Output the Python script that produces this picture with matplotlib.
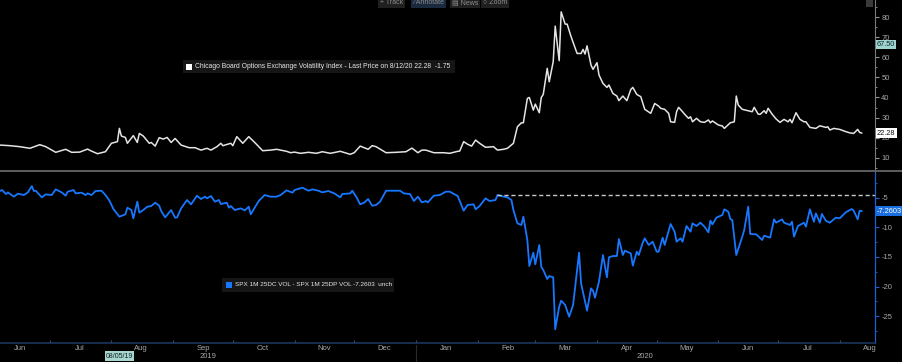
"""Bloomberg-style two panel chart: VIX and SPX 1M 25D call-put skew."""

import pandas as pd
import matplotlib
matplotlib.use("Agg")
import matplotlib.pyplot as plt
import matplotlib.dates as mdates
from matplotlib.patches import Rectangle
from matplotlib.lines import Line2D
from matplotlib.ticker import MultipleLocator, NullFormatter
from matplotlib.transforms import blended_transform_factory

plt.rcParams['font.family'] = ['Liberation Sans Narrow', 'Liberation Sans', 'DejaVu Sans']
plt.rcParams['axes.unicode_minus'] = False

# ---- data ----
vix_dates = [
    "2019-06-06", "2019-06-11", "2019-06-16", "2019-06-21", "2019-06-26", "2019-06-29",
    "2019-07-04", "2019-07-09", "2019-07-12", "2019-07-16", "2019-07-20", "2019-07-22",
    "2019-07-25", "2019-07-29", "2019-08-01", "2019-08-04", "2019-08-05", "2019-08-06",
    "2019-08-08", "2019-08-09", "2019-08-12", "2019-08-14", "2019-08-15", "2019-08-17",
    "2019-08-20", "2019-08-21", "2019-08-23", "2019-08-25", "2019-08-27", "2019-08-29",
    "2019-08-31", "2019-09-02", "2019-09-05", "2019-09-09", "2019-09-12", "2019-09-15",
    "2019-09-18", "2019-09-20", "2019-09-23", "2019-09-25", "2019-09-26", "2019-09-30",
    "2019-10-01", "2019-10-03", "2019-10-06", "2019-10-09", "2019-10-12", "2019-10-16",
    "2019-10-20", "2019-10-23", "2019-10-28", "2019-10-30", "2019-11-01", "2019-11-04",
    "2019-11-08", "2019-11-12", "2019-11-15", "2019-11-19", "2019-11-24", "2019-11-29",
    "2019-12-01", "2019-12-04", "2019-12-08", "2019-12-10", "2019-12-12", "2019-12-17",
    "2019-12-22", "2019-12-27", "2019-12-30", "2020-01-02", "2020-01-04", "2020-01-06",
    "2020-01-10", "2020-01-15", "2020-01-18", "2020-01-22", "2020-01-23", "2020-01-25",
    "2020-01-27", "2020-01-29", "2020-01-31", "2020-02-02", "2020-02-05", "2020-02-09",
    "2020-02-11", "2020-02-14", "2020-02-16", "2020-02-19", "2020-02-21", "2020-02-23",
    "2020-02-24", "2020-02-26", "2020-02-27", "2020-02-29", "2020-03-01", "2020-03-03",
    "2020-03-04", "2020-03-05", "2020-03-07", "2020-03-08", "2020-03-10", "2020-03-11",
    "2020-03-13", "2020-03-14", "2020-03-16", "2020-03-17", "2020-03-19", "2020-03-22",
    "2020-03-24", "2020-03-25", "2020-03-26", "2020-03-27", "2020-03-29", "2020-03-30",
    "2020-04-01", "2020-04-02", "2020-04-04", "2020-04-06", "2020-04-07", "2020-04-09",
    "2020-04-11", "2020-04-12", "2020-04-14", "2020-04-16", "2020-04-18", "2020-04-19",
    "2020-04-21", "2020-04-23", "2020-04-25", "2020-04-28", "2020-04-30", "2020-05-02",
    "2020-05-03", "2020-05-05", "2020-05-07", "2020-05-08", "2020-05-10", "2020-05-11",
    "2020-05-12", "2020-05-14", "2020-05-15", "2020-05-17", "2020-05-18", "2020-05-19",
    "2020-05-21", "2020-05-23", "2020-05-25", "2020-05-27", "2020-05-28", "2020-05-29",
    "2020-06-01", "2020-06-03", "2020-06-04", "2020-06-07", "2020-06-09", "2020-06-10",
    "2020-06-11", "2020-06-13", "2020-06-16", "2020-06-18", "2020-06-19", "2020-06-21",
    "2020-06-22", "2020-06-24", "2020-06-25", "2020-06-26", "2020-06-28", "2020-06-30",
    "2020-07-02", "2020-07-04", "2020-07-06", "2020-07-07", "2020-07-08", "2020-07-10",
    "2020-07-12", "2020-07-14", "2020-07-15", "2020-07-17", "2020-07-20", "2020-07-22",
    "2020-07-25", "2020-07-26", "2020-07-27", "2020-07-29", "2020-08-01", "2020-08-04",
    "2020-08-06", "2020-08-08", "2020-08-10", "2020-08-11", "2020-08-12",
]
vix_values = [
    16.3, 16.0, 15.5, 14.7, 16.5, 15.5,
    12.7, 14.2, 12.7, 12.8, 14.3, 13.3,
    12.0, 13.0, 17.2, 18.0, 24.6, 20.8,
    20.1, 17.2, 21.0, 17.6, 22.1, 20.8,
    17.2, 17.6, 15.8, 20.0, 19.3, 20.1,
    17.6, 19.6, 16.3, 15.0, 15.0, 13.8,
    14.7, 13.8, 15.5, 17.2, 16.0, 17.2,
    16.0, 20.5, 17.2, 20.5, 17.6, 13.5,
    13.8, 14.2, 13.2, 12.5, 12.8, 12.2,
    12.7, 12.2, 13.0, 12.2, 13.2, 11.7,
    12.5, 15.8, 14.2, 16.0, 15.5, 12.5,
    12.7, 13.0, 14.8, 12.5, 13.8, 13.8,
    12.5, 12.5, 12.2, 13.2, 13.3, 18.0,
    16.7, 15.8, 18.8, 17.2, 15.2, 15.5,
    13.8, 14.2, 14.7, 17.2, 25.4, 27.4,
    27.4, 39.5, 40.0, 33.7, 36.7, 32.4,
    40.0, 41.5, 54.5, 47.8, 57.8, 75.5,
    58.3, 82.6, 76.5, 76.5, 70.2, 61.9,
    61.9, 63.9, 61.6, 65.7, 56.1, 54.0,
    57.3, 51.2, 47.0, 45.0, 46.2, 42.0,
    40.7, 38.4, 40.7, 38.4, 44.0, 45.0,
    41.5, 40.4, 34.1, 32.1, 37.0, 35.7,
    34.6, 34.1, 32.1, 27.9, 27.6, 32.9,
    35.1, 32.9, 31.7, 29.6, 30.4, 27.9,
    29.6, 27.9, 27.6, 28.8, 27.4, 28.3,
    26.3, 25.8, 24.6, 27.4, 27.9, 40.7,
    36.2, 34.1, 33.4, 32.9, 35.1, 31.7,
    31.6, 33.4, 32.1, 34.6, 31.7, 29.3,
    27.6, 29.1, 27.9, 29.1, 27.4, 32.4,
    29.1, 27.9, 27.9, 25.1, 24.6, 25.9,
    25.1, 25.4, 23.8, 24.6, 24.1, 23.0,
    22.4, 22.1, 24.1, 22.6, 22.28,
]

skew_dates = [
    "2019-06-06", "2019-06-07", "2019-06-09", "2019-06-10", "2019-06-13", "2019-06-15",
    "2019-06-18", "2019-06-20", "2019-06-22", "2019-06-23", "2019-06-24", "2019-06-27",
    "2019-06-29", "2019-07-02", "2019-07-04", "2019-07-07", "2019-07-09", "2019-07-10",
    "2019-07-13", "2019-07-14", "2019-07-17", "2019-07-19", "2019-07-20", "2019-07-22",
    "2019-07-24", "2019-07-27", "2019-07-29", "2019-07-31", "2019-08-02", "2019-08-05",
    "2019-08-08", "2019-08-09", "2019-08-11", "2019-08-12", "2019-08-14", "2019-08-15",
    "2019-08-17", "2019-08-19", "2019-08-21", "2019-08-23", "2019-08-25", "2019-08-26",
    "2019-08-28", "2019-08-31", "2019-09-02", "2019-09-03", "2019-09-05", "2019-09-08",
    "2019-09-10", "2019-09-13", "2019-09-15", "2019-09-17", "2019-09-18", "2019-09-20",
    "2019-09-22", "2019-09-24", "2019-09-25", "2019-09-28", "2019-09-29", "2019-09-30",
    "2019-10-02", "2019-10-05", "2019-10-07", "2019-10-09", "2019-10-10", "2019-10-14",
    "2019-10-17", "2019-10-20", "2019-10-23", "2019-10-25", "2019-10-28", "2019-10-31",
    "2019-11-01", "2019-11-04", "2019-11-05", "2019-11-08", "2019-11-10", "2019-11-13",
    "2019-11-15", "2019-11-18", "2019-11-21", "2019-11-24", "2019-11-25", "2019-11-29",
    "2019-11-30", "2019-12-02", "2019-12-04", "2019-12-06", "2019-12-08", "2019-12-10",
    "2019-12-12", "2019-12-14", "2019-12-17", "2019-12-21", "2019-12-24", "2019-12-26",
    "2019-12-29", "2019-12-31", "2020-01-02", "2020-01-04", "2020-01-06", "2020-01-07",
    "2020-01-10", "2020-01-13", "2020-01-16", "2020-01-18", "2020-01-22", "2020-01-25",
    "2020-01-27", "2020-01-30", "2020-01-31", "2020-02-02", "2020-02-05", "2020-02-07",
    "2020-02-10", "2020-02-11", "2020-02-14", "2020-02-16", "2020-02-18", "2020-02-19",
    "2020-02-21", "2020-02-23", "2020-02-24", "2020-02-26", "2020-02-27", "2020-02-29",
    "2020-03-01", "2020-03-03", "2020-03-04", "2020-03-05", "2020-03-07", "2020-03-08",
    "2020-03-10", "2020-03-11", "2020-03-13", "2020-03-14", "2020-03-16", "2020-03-18",
    "2020-03-20", "2020-03-23", "2020-03-24", "2020-03-27", "2020-03-29", "2020-03-30",
    "2020-03-31", "2020-04-02", "2020-04-04", "2020-04-06", "2020-04-07", "2020-04-09",
    "2020-04-11", "2020-04-12", "2020-04-14", "2020-04-15", "2020-04-18", "2020-04-19",
    "2020-04-21", "2020-04-22", "2020-04-24", "2020-04-25", "2020-04-27", "2020-04-29",
    "2020-05-01", "2020-05-02", "2020-05-04", "2020-05-05", "2020-05-08", "2020-05-10",
    "2020-05-11", "2020-05-13", "2020-05-14", "2020-05-16", "2020-05-18", "2020-05-19",
    "2020-05-21", "2020-05-23", "2020-05-25", "2020-05-27", "2020-05-28", "2020-05-29",
    "2020-05-31", "2020-06-03", "2020-06-04", "2020-06-06", "2020-06-07", "2020-06-08",
    "2020-06-10", "2020-06-13", "2020-06-14", "2020-06-16", "2020-06-17", "2020-06-20",
    "2020-06-23", "2020-06-24", "2020-06-27", "2020-06-29", "2020-06-30", "2020-07-03",
    "2020-07-04", "2020-07-07", "2020-07-08", "2020-07-09", "2020-07-11", "2020-07-14",
    "2020-07-15", "2020-07-17", "2020-07-19", "2020-07-20", "2020-07-22", "2020-07-23",
    "2020-07-25", "2020-07-27", "2020-07-30", "2020-08-01", "2020-08-04", "2020-08-07",
    "2020-08-08", "2020-08-10", "2020-08-11", "2020-08-12",
]
skew_values = [
    -3.87, -3.70, -4.38, -4.10, -4.83, -4.32,
    -4.55, -4.10, -3.03, -3.87, -3.82, -4.94,
    -4.44, -4.55, -3.59, -4.10, -4.66, -3.99,
    -3.70, -4.27, -4.15, -4.55, -4.27, -4.55,
    -3.87, -3.82, -4.55, -5.50, -6.91, -8.21,
    -7.81, -6.69, -7.08, -8.49, -5.67, -7.53,
    -7.08, -6.52, -6.41, -5.84, -6.35, -7.25,
    -8.32, -7.08, -8.38, -8.32, -6.80, -5.39,
    -6.12, -4.66, -5.22, -4.83, -5.11, -4.72,
    -5.67, -5.39, -6.07, -5.84, -6.69, -6.41,
    -7.08, -6.80, -7.14, -6.52, -7.81, -5.56,
    -4.55, -4.83, -4.83, -4.55, -3.76, -4.15,
    -3.70, -3.42, -3.31, -3.82, -3.59, -3.82,
    -4.10, -3.87, -4.27, -4.94, -4.38, -4.27,
    -3.82, -4.83, -6.12, -5.84, -5.22, -6.35,
    -6.24, -5.67, -3.82, -3.82, -3.82, -4.27,
    -4.38, -5.56, -4.83, -5.79, -5.56, -5.79,
    -4.66, -4.55, -3.99, -3.98, -4.71, -7.19,
    -6.23, -6.12, -6.96, -6.40, -5.11, -5.56,
    -5.39, -4.54, -4.82, -4.94, -5.39, -7.08,
    -9.33, -9.61, -8.20, -12.14, -16.54, -14.28,
    -16.25, -12.99, -16.65, -17.21, -18.73, -18.23,
    -18.45, -27.23, -23.41, -22.39, -23.12, -25.09,
    -23.12, -14.28, -19.46, -24.08, -20.31, -20.70,
    -21.89, -19.18, -14.68, -18.45, -15.07, -14.85,
    -14.85, -11.98, -14.68, -13.95, -14.40, -16.48,
    -14.12, -14.68, -12.59, -11.86, -12.99, -12.43,
    -14.12, -14.12, -11.75, -12.99, -9.44, -10.74,
    -12.43, -11.86, -12.43, -9.78, -10.74, -9.33,
    -9.78, -9.22, -9.89, -10.85, -8.88, -9.50,
    -8.37, -7.92, -6.96, -7.36, -8.60, -8.77,
    -14.68, -11.58, -10.45, -6.51, -11.13, -11.19,
    -12.14, -11.41, -11.75, -8.65, -9.22, -8.65,
    -9.22, -9.61, -9.05, -11.58, -9.78, -9.22,
    -9.89, -6.96, -9.05, -7.64, -9.22, -7.75,
    -8.88, -9.22, -8.37, -8.48, -7.47, -6.91,
    -7.19, -8.65, -7.19, -7.2603,
]

# dashed reference level (pre-selloff high of the skew)
skew_ref_start = "2020-02-11"
skew_ref_level = -4.54

vix_legend = "Chicago Board Options Exchange Volatility Index - Last Price on 8/12/20 22.28  -1.75"
skew_legend = "SPX 1M 25DC VOL - SPX 1M 25DP VOL -7.2603  unch"
crosshair_date = "2019-08-05"
crosshair_label = "08/05/19"
crosshair_value = 67.50
vix_last = 22.28
skew_last = -7.2603
toolbar_items = ["+ Track", "\u2215 Annotate", "\u25a4 News", "\u25cb Zoom"]

x_start = pd.Timestamp("2019-06-06")
x_end = pd.Timestamp("2020-08-18 17:00")

# ---- colours ----
BG = "black"
VIX_COLOR = "#e4e4e4"
SKEW_COLOR = "#1877ff"
TICK_TEXT = "#a8a8a8"
AXIS_BLUE = "#1f5fd0"
NAVY = "#1b355c"

W, H = 902, 362


def px_rect(left, top, right, bottom):
    """Pixel box (origin top-left) -> figure fraction rect."""
    return [left / W, 1 - bottom / H, (right - left) / W, (bottom - top) / H]


def fx(x):
    return x / W


def fy(y):
    return 1 - y / H


fig = plt.figure(figsize=(W / 100, H / 100), dpi=100, facecolor=BG)
ax1 = fig.add_axes(px_rect(0, 0, 875, 170))
ax2 = fig.add_axes(px_rect(0, 171, 875, 343), sharex=ax1)

vix_x = pd.to_datetime(vix_dates)
skew_x = pd.to_datetime(skew_dates)

ax1.plot(vix_x, vix_values, color=VIX_COLOR, lw=1.1, solid_joinstyle='round')
ax2.plot(skew_x, skew_values, color=SKEW_COLOR, lw=1.3, solid_joinstyle='round')
ax2.hlines(skew_ref_level, pd.Timestamp(skew_ref_start), x_end,
           colors="#c8c8c8", linestyles=(0, (3, 2)), lw=1.0)

ax1.set_xlim(x_start, x_end)
ax1.set_ylim(3.9, 88.5)
ax2.set_ylim(-29.54, -0.49)

for ax in (ax1, ax2):
    ax.set_facecolor(BG)
    ax.yaxis.tick_right()
    for s in ("top", "left"):
        ax.spines[s].set_visible(False)

# top panel axis styling
ax1.spines["bottom"].set_visible(False)
ax1.spines["right"].set_color("#7a7a7a")
ax1.spines["right"].set_linewidth(0.8)
ax1.set_yticks([10, 20, 30, 40, 50, 60, 70, 80])
ax1.yaxis.set_minor_locator(MultipleLocator(5))
ax1.tick_params(axis="y", which="major", length=3, width=0.8, color="#9a9a9a",
                labelcolor=TICK_TEXT, labelsize=5.5, pad=1.5)
ax1.tick_params(axis="y", which="minor", length=1.5, width=0.6, color="#9a9a9a")
ax1.tick_params(axis="x", which="both", bottom=False, labelbottom=False)

# bottom panel axis styling
ax2.spines["right"].set_color(AXIS_BLUE)
ax2.spines["right"].set_linewidth(0.9)
ax2.spines["bottom"].set_color(NAVY)
ax2.spines["bottom"].set_linewidth(1.2)
ax2.set_yticks([-5, -10, -15, -20, -25])
ax2.yaxis.set_minor_locator(MultipleLocator(2.5))
ax2.tick_params(axis="y", which="major", length=3, width=0.8, color=AXIS_BLUE,
                labelcolor=TICK_TEXT, labelsize=5.5, pad=1.5)
ax2.tick_params(axis="y", which="minor", length=1.5, width=0.6, color=AXIS_BLUE)

ax2.xaxis.set_major_locator(mdates.MonthLocator())
ax2.xaxis.set_major_formatter(NullFormatter())
ax2.xaxis.set_minor_locator(mdates.MonthLocator(bymonthday=16))
ax2.xaxis.set_minor_formatter(mdates.DateFormatter("%b"))
ax2.tick_params(axis="x", which="major", direction="in", length=2, width=0.8, color="#2c5088")
ax2.tick_params(axis="x", which="minor", length=0, labelcolor=TICK_TEXT, labelsize=5.5, pad=1.5)

# year labels, centred on visible part of each year, plus divider
year_tr = blended_transform_factory(ax2.transData, fig.transFigure)
year_break = pd.Timestamp("2020-01-01")
for label, a, b in (("2019", x_start, year_break), ("2020", year_break, x_end)):
    mid = a + (b - a) / 2
    ax2.text(mid, fy(356), label, transform=year_tr, ha="center", va="center",
             fontsize=5.5, color=TICK_TEXT, clip_on=False)
fig.add_artist(Line2D([mdates.date2num(year_break)] * 2, [fy(345), fy(362)],
                      transform=year_tr, color="#2a2a2a", lw=0.8))

# crosshair date box on the time axis
ax2.text(pd.Timestamp(crosshair_date), fy(356), crosshair_label, transform=year_tr,
         ha="center", va="center", fontsize=5, color="#102020", clip_on=False,
         bbox=dict(boxstyle="square,pad=0.15", fc="#a6d6cf", ec="none"))

# value flags on the right axis
flag_kw = dict(xycoords=("axes fraction", "data"), textcoords="offset points",
               xytext=(1.5, 0), ha="left", va="center", fontsize=5.3, annotation_clip=False)
ax1.annotate(f"{crosshair_value:.2f}", xy=(1.0, crosshair_value - 1.2), color="#0c2a2a",
             bbox=dict(boxstyle="square,pad=0.12", fc="#9fd3d0", ec="none"), **flag_kw)
ax1.annotate(f"{vix_last:.2f}", xy=(1.0, vix_last), color="#111111",
             bbox=dict(boxstyle="square,pad=0.2", fc="white", ec="none"), **flag_kw)
ax2.annotate(f"{skew_last:.4f}", xy=(1.0, skew_last), color="white",
             bbox=dict(boxstyle="square,pad=0.2", fc="#1a6fe0", ec="none"), **flag_kw)

# separator between the panels
fig.add_artist(Line2D([0, 1], [fy(170.5), fy(170.5)], transform=fig.transFigure,
                      color="#5e5e5e", lw=1.4))

# legend boxes
fig.add_artist(Rectangle((fx(183), fy(73)), fx(455) - fx(183), fy(60) - fy(73),
                         transform=fig.transFigure, fc="#161616", ec="none"))
fig.add_artist(Rectangle((fx(186), fy(69.5)), fx(192) - fx(186), fy(63.5) - fy(69.5),
                         transform=fig.transFigure, fc="white", ec="none"))
fig.text(fx(195), fy(66.7), vix_legend, ha="left", va="center", fontsize=4.9, color="#e6e6e6")

fig.add_artist(Rectangle((fx(222), fy(292)), fx(394) - fx(222), fy(278) - fy(292),
                         transform=fig.transFigure, fc="#161616", ec="none"))
fig.add_artist(Rectangle((fx(226), fy(288)), fx(232) - fx(226), fy(282) - fy(288),
                         transform=fig.transFigure, fc=SKEW_COLOR, ec="none"))
fig.text(fx(235), fy(285), skew_legend, ha="left", va="center", fontsize=4.6, color="#e6e6e6")

# toolbar stub at the top
toolbar_x = [380, 413, 452, 483]
for x, item in zip(toolbar_x, toolbar_items):
    fc = "#1a2a3e" if "Annotate" in item else "#202020"
    fig.text(fx(x), fy(2.5), item, ha="left", va="center", fontsize=5, color="#8c8c8c",
             bbox=dict(boxstyle="square,pad=0.3", fc=fc, ec="none"))
fig.add_artist(Rectangle((fx(866), fy(7)), fx(873) - fx(866), fy(0) - fy(7),
                         transform=fig.transFigure, fc="#3a3a3a", ec="none"))

plt.savefig("out.png", dpi=100, facecolor=BG)
plt.close()
